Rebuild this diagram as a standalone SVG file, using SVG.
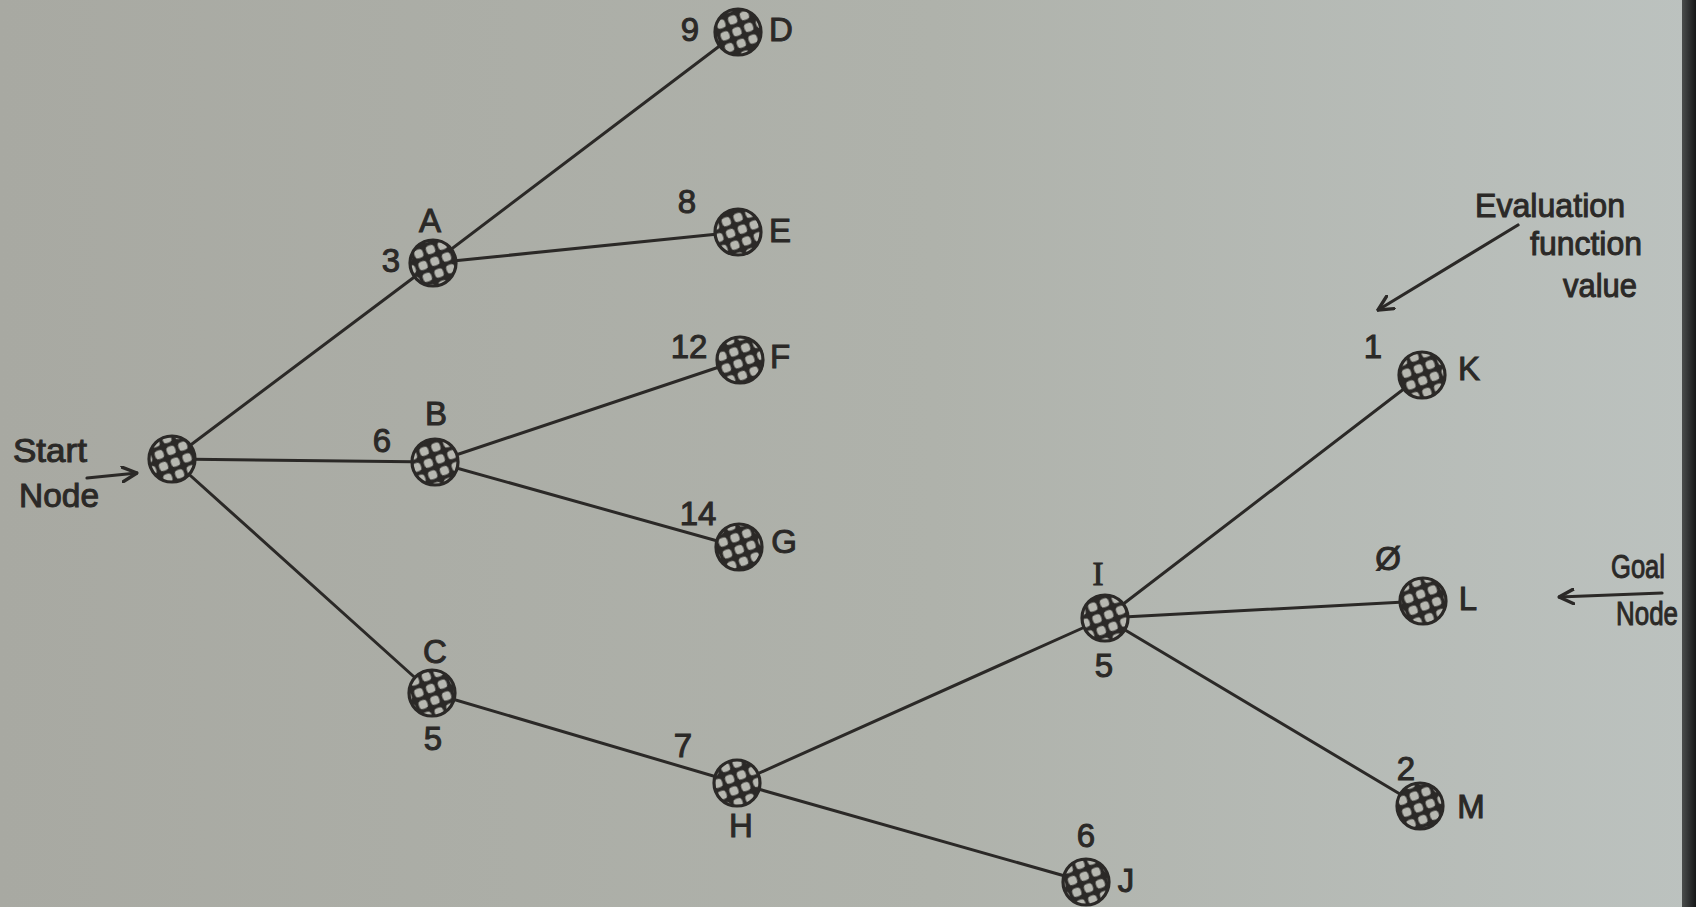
<svg xmlns="http://www.w3.org/2000/svg" width="1696" height="907" viewBox="0 0 1696 907">
  <defs>
    <linearGradient id="paper" x1="0" y1="0" x2="1" y2="0">
      <stop offset="0" stop-color="#a8a9a2"/>
      <stop offset="0.55" stop-color="#afb2ab"/>
      <stop offset="1" stop-color="#bcc2bf"/>
    </linearGradient>
    <linearGradient id="edge" x1="0" y1="0" x2="1" y2="0">
      <stop offset="0" stop-color="#4a4d4c"/>
      <stop offset="1" stop-color="#161718"/>
    </linearGradient>
    <!-- cross-hatched node fill: dark grid with light holes -->
    <pattern id="hatch" patternUnits="userSpaceOnUse" width="12.5" height="12.5" patternTransform="rotate(-20)">
      <rect width="12.5" height="12.5" fill="#2b2927"/>
      <rect x="2.3" y="2.3" width="8.8" height="8.8" rx="3.4" fill="#b7b8b1"/>
    </pattern>
    <marker id="arrowEnd" viewBox="0 0 14 14" refX="13" refY="7" markerWidth="17" markerHeight="17" markerUnits="userSpaceOnUse" orient="auto">
      <path d="M1,1 L13,7 L1,13" fill="none" stroke="#2b2927" stroke-width="2.8" stroke-linecap="round" stroke-linejoin="round"/>
    </marker>
  </defs>
  <style>
    .edge { stroke: #2b2927; stroke-width: 3; fill: none; stroke-linecap: round; }
    .ptr { stroke: #2b2927; stroke-width: 3.2; fill: none; stroke-linecap: round; }
    .node circle { fill: url(#hatch); stroke: #2b2927; stroke-width: 3.2; }
    text { font-family: "Liberation Sans", "DejaVu Sans", sans-serif; font-size: 33px; fill: #2b2927; stroke: #2b2927; stroke-width: 1; text-anchor: middle; }
    .serif { font-family: "Liberation Serif", "DejaVu Serif", serif; }
  </style>

  <!-- page -->
  <rect width="1696" height="907" fill="url(#paper)"/>
  <rect x="1682" y="0" width="14" height="907" fill="url(#edge)"/>

  <!-- connectors -->
  <g id="connectors">
    <line class="edge" x1="172" y1="459" x2="433" y2="263"/>
    <line class="edge" x1="172" y1="459" x2="435" y2="462"/>
    <line class="edge" x1="172" y1="459" x2="432" y2="693"/>
    <line class="edge" x1="433" y1="263" x2="738" y2="32"/>
    <line class="edge" x1="433" y1="263" x2="738" y2="232"/>
    <line class="edge" x1="435" y1="462" x2="740" y2="360"/>
    <line class="edge" x1="435" y1="462" x2="739" y2="547"/>
    <line class="edge" x1="432" y1="693" x2="737" y2="783"/>
    <line class="edge" x1="737" y1="783" x2="1105" y2="618"/>
    <line class="edge" x1="737" y1="783" x2="1086" y2="882"/>
    <line class="edge" x1="1105" y1="618" x2="1422" y2="375"/>
    <line class="edge" x1="1105" y1="618" x2="1423" y2="601"/>
    <line class="edge" x1="1105" y1="618" x2="1420" y2="806"/>
    <!-- annotation pointers -->
    <line class="ptr" x1="87" y1="478" x2="137" y2="473" marker-end="url(#arrowEnd)"/>
    <line class="ptr" x1="1518" y1="225" x2="1378" y2="310" marker-end="url(#arrowEnd)"/>
    <line class="ptr" x1="1662" y1="593" x2="1559" y2="597" marker-end="url(#arrowEnd)"/>
  </g>

  <!-- nodes -->
  <g id="node-start" class="node"><circle cx="172" cy="459" r="23"/></g>
  <g id="node-A" class="node"><circle cx="433" cy="263" r="23"/>
    <text x="430" y="232">A</text><text x="391" y="272">3</text></g>
  <g id="node-B" class="node"><circle cx="435" cy="462" r="23"/>
    <text x="436" y="425">B</text><text x="382" y="452">6</text></g>
  <g id="node-C" class="node"><circle cx="432" cy="693" r="23"/>
    <text x="435" y="663">C</text><text x="433" y="750">5</text></g>
  <g id="node-D" class="node"><circle cx="738" cy="32" r="23"/>
    <text x="690" y="41">9</text><text x="781" y="41">D</text></g>
  <g id="node-E" class="node"><circle cx="738" cy="232" r="23"/>
    <text x="687" y="213">8</text><text x="780" y="242">E</text></g>
  <g id="node-F" class="node"><circle cx="740" cy="360" r="23"/>
    <text x="689" y="358">12</text><text x="780" y="368">F</text></g>
  <g id="node-G" class="node"><circle cx="739" cy="547" r="23"/>
    <text x="698" y="525">14</text><text x="784" y="553">G</text></g>
  <g id="node-H" class="node"><circle cx="737" cy="783" r="23"/>
    <text x="683" y="757">7</text><text x="741" y="837">H</text></g>
  <g id="node-I" class="node"><circle cx="1105" cy="618" r="23"/>
    <text class="serif" x="1098" y="585">I</text><text x="1104" y="677">5</text></g>
  <g id="node-J" class="node"><circle cx="1086" cy="882" r="23"/>
    <text x="1086" y="847">6</text><text x="1126" y="892">J</text></g>
  <g id="node-K" class="node"><circle cx="1422" cy="375" r="23"/>
    <text x="1373" y="358">1</text><text x="1469" y="380">K</text></g>
  <g id="node-L" class="node"><circle cx="1423" cy="601" r="23"/>
    <text x="1388" y="570">Ø</text><text x="1468" y="610">L</text></g>
  <g id="node-M" class="node"><circle cx="1420" cy="806" r="23"/>
    <text x="1406" y="780">2</text><text x="1471" y="818">M</text></g>

  <!-- annotations -->
  <g id="label-start">
    <text x="50" y="462" textLength="74" lengthAdjust="spacingAndGlyphs">Start</text>
    <text x="59" y="507" textLength="80" lengthAdjust="spacingAndGlyphs">Node</text>
  </g>
  <g id="label-evaluation">
    <text x="1550" y="217" textLength="150" lengthAdjust="spacingAndGlyphs">Evaluation</text>
    <text x="1586" y="255" textLength="112" lengthAdjust="spacingAndGlyphs">function</text>
    <text x="1600" y="297" textLength="74" lengthAdjust="spacingAndGlyphs">value</text>
  </g>
  <g id="label-goal">
    <text x="1638" y="578" textLength="54" lengthAdjust="spacingAndGlyphs">Goal</text>
    <text x="1647" y="625" textLength="62" lengthAdjust="spacingAndGlyphs">Node</text>
  </g>
</svg>
